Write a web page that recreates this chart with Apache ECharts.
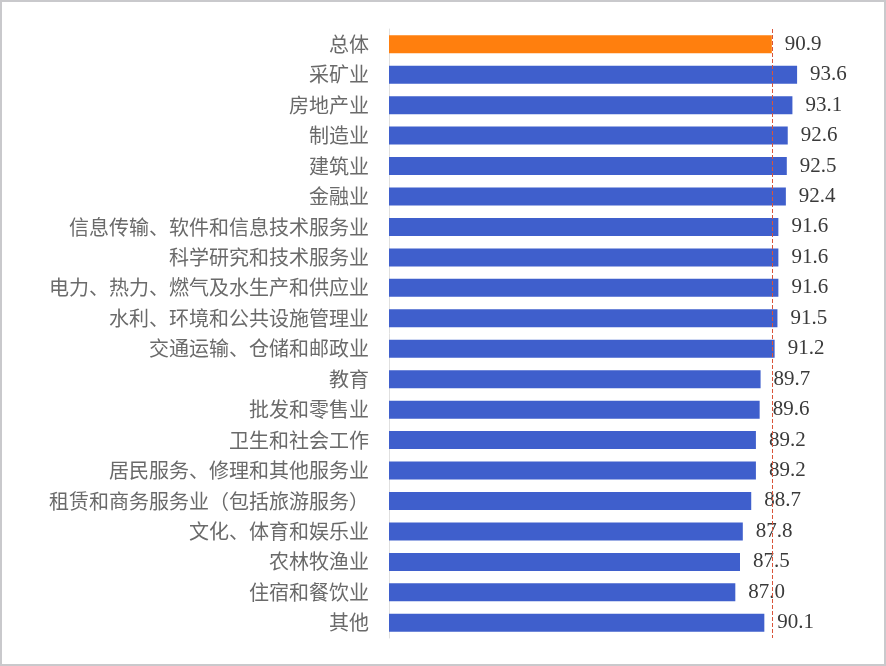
<!DOCTYPE html>
<html>
<head>
    <meta charset="UTF-8">
    <title>行业得分</title>
    <script src="https://cdn.jsdelivr.net/npm/echarts@6/dist/echarts.min.js"></script>
    <style>
        html, body {
            margin: 0;
            padding: 0;
            background: #fff;
        }
        #chart {
            width: 886px;
            height: 666px;
            box-sizing: border-box;
            border: 2px solid #c9c9cc;
        }
    </style>
</head>
<body>
<div id="chart"></div>
<script>
    // 行业名称（自上而下）
    var categories = [
        '总体', '采矿业', '房地产业', '制造业', '建筑业', '金融业',
        '信息传输、软件和信息技术服务业', '科学研究和技术服务业',
        '电力、热力、燃气及水生产和供应业', '水利、环境和公共设施管理业',
        '交通运输、仓储和邮政业', '教育', '批发和零售业', '卫生和社会工作',
        '居民服务、修理和其他服务业', '租赁和商务服务业（包括旅游服务）',
        '文化、体育和娱乐业', '农林牧渔业', '住宿和餐饮业', '其他'
    ];

    // 得分
    var values = [
        90.9, 93.6, 93.1, 92.6, 92.5, 92.4,
        91.6, 91.6, 91.6, 91.5, 91.2, 89.7,
        89.6, 89.2, 89.2, 88.7, 87.8, 87.5, 87.0, 90.1
    ];

    // 参考线（总体）
    var overall = 90.9;

    var chart = echarts.init(document.getElementById('chart'));

    var option = {
        backgroundColor: '#fff',
        animation: false,
        grid: {
            left: 387,
            right: 27,
            top: 27,
            bottom: 26,
            containLabel: false
        },
        xAxis: {
            type: 'value',
            min: 50,
            max: 100,
            show: false,
            splitLine: { show: false }
        },
        yAxis: {
            type: 'category',
            inverse: true,
            data: categories,
            axisTick: { show: false },
            axisLine: { lineStyle: { color: '#e0e0e0', width: 1 } },
            axisLabel: {
                margin: 20,
                fontSize: 20,
                color: '#6a6a6a',
                fontFamily: 'Noto Sans CJK SC'
            }
        },
        series: [{
            type: 'bar',
            barWidth: 18,
            data: values.map(function (v, i) {
                return {
                    value: v,
                    itemStyle: { color: i === 0 ? '#ff7f0e' : '#3f5fcc' }
                };
            }),
            label: {
                show: true,
                position: 'right',
                distance: 13,
                fontSize: 21,
                color: '#3a3a3a',
                fontFamily: 'Liberation Serif',
                formatter: function (p) {
                    return p.value.toFixed(1);
                }
            },
            markLine: {
                silent: true,
                symbol: 'none',
                label: { show: false },
                lineStyle: { color: '#d9543a', type: 'dashed', width: 1 },
                data: [{ xAxis: overall }]
            }
        }]
    };

    chart.setOption(option);
</script>
</body>
</html>
